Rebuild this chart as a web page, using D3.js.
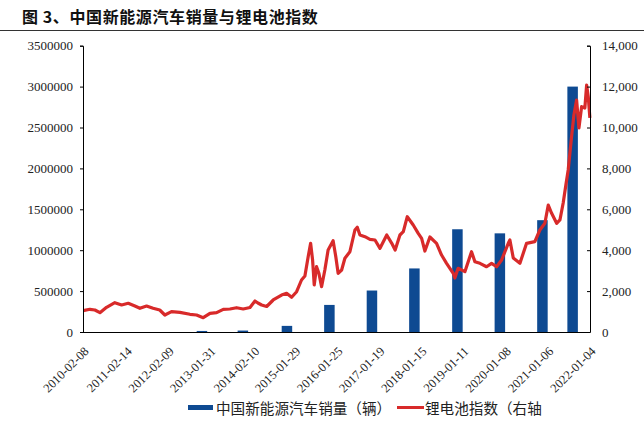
<!DOCTYPE html>
<html><head><meta charset="utf-8">
<script src="https://cdn.jsdelivr.net/npm/d3@7"></script>
<style>
html,body{margin:0;padding:0;background:#fff;}
svg{display:block;}
</style></head>
<body>
<svg id="c" width="644" height="422"></svg>
<script>
// ---- data ----
const titleText = "图 3、中国新能源汽车销量与锂电池指数";
const legendBar = "中国新能源汽车销量（辆）";
const legendLine = "锂电池指数（右轴";

const xTickDates = ["2010-02-08","2011-02-14","2012-02-09","2013-01-31","2014-02-10","2015-01-29","2016-01-25","2017-01-19","2018-01-15","2019-01-11","2020-01-08","2021-01-06","2022-01-04"];
const leftTicks = [0,500000,1000000,1500000,2000000,2500000,3000000,3500000];
const rightTicks = [0,2000,4000,6000,8000,10000,12000,14000];

const barDates = ["2012-11-24","2013-11-10","2014-11-23","2015-11-22","2016-11-21","2017-11-20","2018-11-24","2019-11-23","2020-11-22","2021-08-08"];
const barValues = [12791,17642,74763,331092,507000,777000,1256000,1206000,1367000,3000000];

const lineDates = ["2010-02-10","2010-04-08","2010-05-21","2010-07-03","2010-08-29","2010-11-08","2011-01-05","2011-03-03","2011-04-29","2011-06-11","2011-08-07","2011-10-02","2011-11-28","2012-01-11","2012-03-08","2012-05-19","2012-08-13","2012-10-09","2012-12-05","2013-02-01","2013-03-30","2013-05-26","2013-07-22","2013-09-17","2013-11-13","2014-01-10","2014-02-22","2014-03-19","2014-04-20","2014-06-02","2014-07-28","2014-10-08","2014-11-20","2015-01-02","2015-02-14","2015-03-28","2015-04-26","2015-05-24","2015-06-14","2015-07-01","2015-07-15","2015-08-04","2015-08-24","2015-09-16","2015-10-14","2015-11-11","2015-12-24","2016-01-16","2016-02-05","2016-03-06","2016-04-03","2016-05-16","2016-06-28","2016-07-18","2016-08-10","2016-09-22","2016-11-04","2016-12-17","2017-01-29","2017-03-28","2017-05-10","2017-06-08","2017-07-19","2017-08-17","2017-09-20","2017-11-10","2017-12-23","2018-01-21","2018-02-18","2018-04-02","2018-05-29","2018-07-11","2018-08-23","2018-10-19","2018-11-02","2018-11-30","2019-01-27","2019-03-25","2019-04-23","2019-06-05","2019-08-01","2019-09-13","2019-10-26","2019-12-08","2020-02-03","2020-02-17","2020-03-17","2020-05-13","2020-07-09","2020-09-18","2020-10-31","2020-12-13","2021-01-11","2021-02-09","2021-03-24","2021-04-21","2021-05-19","2021-06-11","2021-07-01","2021-07-30","2021-08-19","2021-09-11","2021-10-01","2021-10-24","2021-11-21","2021-12-06","2021-12-20","2022-01-03"];
const lineValues = [1042,1110,1076,944,1208,1433,1320,1403,1271,1159,1271,1159,1076,831,993,963,866,831,699,914,944,1110,1125,1188,1125,1198,1516,1418,1320,1247,1565,1809,1892,1697,1971,2543,2738,3682,4337,3521,2298,3193,2870,2215,3032,4010,4465,3682,2870,3032,3604,3927,4988,5120,4743,4660,4533,4499,4093,4743,4337,4010,4743,4905,5638,5232,4826,4582,3961,4646,4337,3765,3359,2870,2641,3115,2949,3927,3438,3359,3193,3359,3193,3521,4337,4499,3619,3359,4337,4416,4988,5315,6210,5804,5315,5477,6308,7188,7922,9550,10611,11345,9976,11017,10954,12078,11506,10465];

// ---- layout ----
const M = {left:83, right:590, top:45.7, bottom:332};
const parse = d3.timeParse("%Y-%m-%d");
const svg = d3.select("#c");

const x = d3.scaleTime().domain([parse("2010-02-08"), parse("2022-01-04")]).range([M.left, M.right]);
const yL = d3.scaleLinear().domain([0,3500000]).range([M.bottom, M.top]);
const yR = d3.scaleLinear().domain([0,14000]).range([M.bottom, M.top]);

// title
svg.append("text").attr("x",22).attr("y",23)
  .attr("font-family","'Noto Sans CJK SC', sans-serif").attr("font-weight","bold")
  .attr("font-size",16).attr("letter-spacing",0.6).attr("fill","#111").text(titleText);
svg.append("line").attr("x1",0).attr("x2",644).attr("y1",30.5).attr("y2",30.5)
  .attr("stroke","#333").attr("stroke-width",1.2);

// bars
const barW = 10.5;
svg.append("g").selectAll("rect").data(barDates.map((d,i)=>({d:parse(d),v:barValues[i]})))
  .join("rect")
  .attr("x",d=>x(d.d)-barW/2).attr("width",barW)
  .attr("y",d=>yL(d.v)).attr("height",d=>yL(0)-yL(d.v))
  .attr("fill","#0e4a92");

// line
const lineData = lineDates.map((d,i)=>({d:parse(d),v:lineValues[i]}));
svg.append("path").datum(lineData)
  .attr("fill","none").attr("stroke","#d82a2a").attr("stroke-width",3.2)
  .attr("stroke-linejoin","round")
  .attr("d",d3.line().x(d=>x(d.d)).y(d=>yR(d.v)).curve(d3.curveLinear));

// axes
const serif = "'Liberation Serif','Times New Roman',serif";
const gl = svg.append("g").attr("transform",`translate(${M.left},0)`)
  .call(d3.axisLeft(yL).tickValues(leftTicks).tickSize(3).tickPadding(7).tickFormat(d3.format("d")));
gl.select(".domain").attr("stroke","#000");
gl.selectAll("text").attr("font-family",serif).attr("font-size",13).attr("fill","#222");

const gr = svg.append("g").attr("transform",`translate(${M.right},0)`)
  .call(d3.axisRight(yR).tickValues(rightTicks).tickSize(-3).tickPadding(12).tickFormat(d3.format(",")));
gr.select(".domain").attr("stroke","#000");
gr.selectAll("text").attr("font-family",serif).attr("font-size",13).attr("fill","#222");

const gb = svg.append("g").attr("transform",`translate(0,${M.bottom})`)
  .call(d3.axisBottom(x).tickValues(xTickDates.map(parse)).tickSize(0).tickFormat(d3.timeFormat("%Y-%m-%d")));
gb.select(".domain").attr("stroke","#000").attr("d",`M${M.left},0.5H${M.right}`);
gb.selectAll("text").attr("font-family",serif).attr("font-size",12.5).attr("fill","#222")
  .attr("text-anchor","end").attr("dy",0).attr("y",0)
  .attr("transform","translate(6,20) rotate(-45)");

// legend
const sans = "'Noto Sans CJK SC', sans-serif";
const lg = svg.append("g");
lg.append("rect").attr("x",188).attr("y",405).attr("width",25).attr("height",5).attr("fill","#0e4a92");
lg.append("text").attr("x",216).attr("y",413.5).attr("font-family",sans).attr("font-size",14.6).attr("fill","#222").text(legendBar);
lg.append("rect").attr("x",397).attr("y",406).attr("width",27).attr("height",3).attr("fill","#d82a2a");
lg.append("text").attr("x",425).attr("y",413.5).attr("font-family",sans).attr("font-size",14.6).attr("fill","#222").text(legendLine);
</script>
</body></html>
